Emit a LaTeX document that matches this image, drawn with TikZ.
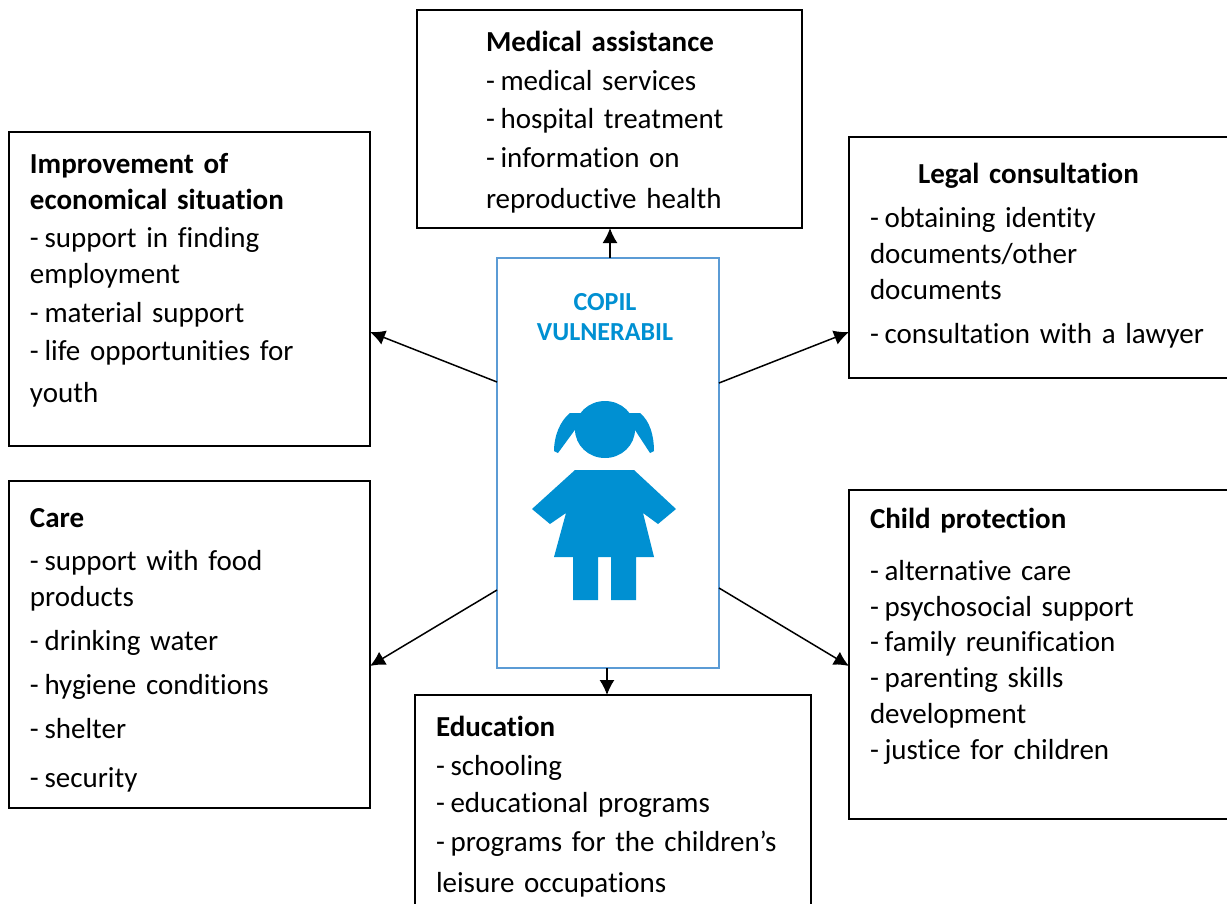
\documentclass[tikz,border=0pt]{standalone}
\usepackage{fontspec}
\setmainfont[Ligatures=NoCommon]{Carlito}
\usetikzlibrary{arrows.meta}
\definecolor{kidblue}{HTML}{0090D2}
\definecolor{frameblue}{HTML}{5B9BD5}
\newcommand{\topgap}[1]{\rule{0pt}{#1pt}}
\newcommand{\botgap}[1]{\rule[-#1pt]{0pt}{#1pt}}
\newcommand{\tight}{\kern-4pt\relax}
\begin{document}
\begin{tikzpicture}[x=1pt,y=1pt]
\tikzstyle{infobox}=[draw=black,line width=2pt,outer sep=0pt,anchor=north west,inner ysep=0pt,inner xsep=21pt,align=left,font=\fontsize{29}{35}\selectfont]
\tikzstyle{centrebox}=[draw=frameblue,line width=2pt,outer sep=0pt,anchor=north west,minimum width=222pt,minimum height=410pt,inner sep=0pt]
\tikzstyle{kidtext}=[text=kidblue,inner sep=0pt,font=\fontsize{26}{30}\selectfont\bfseries]
\tikzstyle{tie}=[black,line width=1.5pt,-{Latex[length=15pt,width=15pt]}]
\clip (0,0) rectangle (1227,-903);
% boxes
\node [infobox,inner xsep=69pt,text width=247pt] (medical) at (417,-10) {\topgap{41}\textbf{Medical assistance}\\[4pt]
-\tight{} medical services\\[3pt]
-\tight{} hospital treatment\\[4pt]
-\tight{} information on\\[6pt]
reproductive health\botgap{20}};
\node [infobox,text width=319pt] (economy) at (9,-132) {\topgap{41}\textbf{Improvement of}\\[1pt]
\textbf{economical situation}\\[3pt]
-\tight{} support in finding\\[1pt]
employment\\[4pt]
-\tight{} material support\\[3pt]
-\tight{} life opportunities for\\[7pt]
youth\botgap{44}};
\node [infobox,text width=348pt] (legal) at (849,-137) {\topgap{46}\hspace*{48pt}\textbf{Legal consultation}\\[9pt]
-\tight{} obtaining identity\\[1pt]
documents/other\\[1pt]
documents\\[9pt]
-\tight{} consultation with a lawyer\botgap{35}};
\node [infobox,text width=319pt] (care) at (9,-481) {\topgap{46}\textbf{Care}\\[8pt]
-\tight{} support with food\\[1pt]
products\\[9pt]
-\tight{} drinking water\\[9pt]
-\tight{} hygiene conditions\\[9pt]
-\tight{} shelter\\[14pt]
-\tight{} security\botgap{21}};
\node [infobox,text width=348pt] (protection) at (849,-490) {\topgap{38}\textbf{Child protection}\\[17pt]
-\tight{} alternative care\\[1pt]
-\tight{} psychosocial support\\[0pt]
-\tight{} family reunification\\[1pt]
-\tight{} parenting skills\\[1pt]
development\\[1pt]
-\tight{} justice for children\botgap{60}};
\node [infobox,text width=354pt] (education) at (415,-695) {\topgap{41}\textbf{Education}\\[4pt]
-\tight{} schooling\\[2pt]
-\tight{} educational programs\\[4pt]
-\tight{} programs for the children’s\\[6pt]
leisure occupations\botgap{23}};
\node [centrebox] (centre) at (497,-258) {};
% label and child
\node [kidtext] (copil) at (605,-302) {COPIL};
\node [kidtext] (vulnerabil) at (605,-332) {VULNERABIL};
\fill [kidblue] (605,-429.5) ellipse (30 and 28.5);
\fill [kidblue] (582,-413) -- (570,-413) .. controls (560,-421) and (554,-436) .. (554,-451) -- (558,-453) -- (577,-427) -- cycle;
\fill [kidblue] (628,-413) -- (640,-413) .. controls (650,-421) and (654,-436) .. (654,-451) -- (650,-453) -- (633,-427) -- cycle;
\fill [kidblue] (575,-470) -- (634,-470) -- (676,-509) -- (658,-524) -- (643,-513) -- (654,-557) -- (636,-557) -- (636,-600) -- (611,-600) -- (611,-557) -- (598,-557) -- (598,-600) -- (573,-600) -- (573,-557) -- (554,-557) -- (566,-513) -- (550,-524) -- (532,-509) -- cycle;
% connectors
\draw [tie] ([xshift=113pt]centre.north west) -- ([xshift=193pt]medical.south west);
\draw [tie] ([yshift=-124pt]centre.north west) -- ([yshift=-200pt]economy.north east);
\draw [tie] ([yshift=-125pt]centre.north east) -- ([yshift=-195pt]legal.north west);
\draw [tie] ([yshift=-332pt]centre.north west) -- ([yshift=-185pt]care.north east);
\draw [tie] ([yshift=-330pt]centre.north east) -- ([yshift=-176pt]protection.north west);
\draw [tie] ([xshift=110pt]centre.south west) -- ([xshift=192pt]education.north west);
\end{tikzpicture}
\end{document}
